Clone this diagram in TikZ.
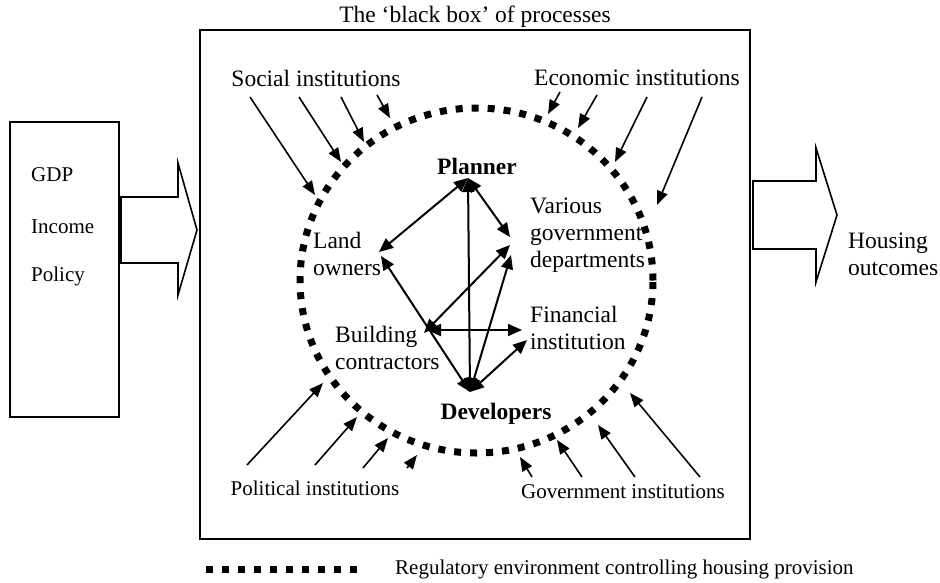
\documentclass[tikz,border=0pt]{standalone}
\usepackage{fontspec}
\setmainfont{Liberation Serif}
\usetikzlibrary{arrows.meta}
\begin{document}
\begin{tikzpicture}[x=1pt,y=-1pt,
  lbl/.style={inner sep=0pt, font=\fontsize{23.5}{27}\selectfont, align=left},
  sml/.style={inner sep=0pt, font=\fontsize{21}{25}\selectfont, align=left},
  bold/.style={inner sep=0pt, font=\fontsize{23.5}{27}\selectfont\bfseries},
  rel/.style={line width=2pt, {Triangle[length=14pt,width=12pt]}-{Triangle[length=14pt,width=12pt]}},
  ext/.style={line width=1.6pt, -{Triangle[length=14pt,width=11pt]}},
  dotline/.style={line width=7pt, dash pattern=on 7pt off 9pt},
  frame/.style={draw, line width=2pt},
  blockarrow/.style={draw, line width=1.6pt, fill=white, line join=miter}]
\useasboundingbox (0,0) rectangle (940,582);

% boxes
\draw[line width=1.5pt] (10,122) rectangle (119,417);
\draw[frame] (200,30) rectangle (750,539);

% block arrows
\draw[blockarrow] (121,197) -- (178,197) -- (178,163) -- (197,230) -- (178,295) -- (178,263) -- (121,263) -- cycle;
\draw[blockarrow] (753,181) -- (816,181) -- (816,148) -- (837,215) -- (816,282) -- (816,249) -- (753,249) -- cycle;

% texts
\node[lbl] (title) at (475,17) {The `black box' of processes};
\node[sml, anchor=west] (gdp) at (31,175) {GDP};
\node[sml, anchor=west] (income) at (31,227) {Income};
\node[sml, anchor=west] (policy) at (31,276) {Policy};
\node[lbl, anchor=west] (housing) at (848,254) {Housing\\outcomes};
\node[lbl] (social) at (316,78) {Social institutions};
\node[lbl] (economic) at (637,78) {Economic institutions};
\node[sml] (political) at (315,488) {Political institutions};
\node[sml] (government) at (623,492) {Government institutions};
\node[bold] (planner) at (477,166) {Planner};
\node[bold] (developers) at (496,414) {Developers};
\node[lbl, anchor=west] (various) at (530,235) {Various\\government\\departments};
\node[lbl, anchor=west] (land) at (313,254) {Land\\owners};
\node[lbl, anchor=west] (building) at (335,348) {Building\\contractors};
\node[lbl, anchor=west] (financial) at (530,328) {Financial\\institution};
\node[sml, anchor=west] (legend) at (395,569) {Regulatory environment controlling housing provision};

% regulatory environment
\draw[dotline] (476.5,280.5) ellipse [x radius=176.5pt, y radius=172.5pt];
\coordinate (legA) at (206,569);
\coordinate (legB) at (357,569);
\draw[dotline] (legA) -- (legB);

% relation end points
\coordinate (P) at (468,178);
\coordinate (D) at (470,392);
\coordinate (L1) at (379,252);
\coordinate (L2) at (381,256);
\coordinate (V1) at (510,237);
\coordinate (V2) at (510,245);
\coordinate (V3) at (511,255);
\coordinate (B1) at (424,333);
\coordinate (B2) at (427,330);
\coordinate (F1) at (522,330);
\coordinate (F2) at (527,340);

\draw[rel] (P) -- (L1);
\draw[rel] (P) -- (V1);
\draw[rel] (P) -- (D);
\draw[rel] (L2) -- (D);
\draw[rel] (B1) -- (V2);
\draw[rel] (D) -- (V3);
\draw[rel] (B2) -- (F1);
\draw[rel] (D) -- (F2);

% institutional influences
\foreach \n/\a/\b in {
  s1/{250,97}/{315,195}, s2/{299,97}/{341,162}, s3/{341,97}/{364,142}, s4/{377,95}/{390,118},
  e1/{560,92}/{548,114}, e2/{597,95}/{578,128}, e3/{647,97}/{615,162}, e4/{702,97}/{657,205},
  p1/{247,465}/{323,383}, p2/{315,465}/{357,417}, p3/{363,468}/{388,438}, p4/{407,468}/{417,455},
  g1/{532,477}/{520,457}, g2/{582,477}/{557,440}, g3/{635,477}/{598,425}, g4/{700,477}/{630,393}}{
  \coordinate (\n a) at (\a);
  \coordinate (\n b) at (\b);
  \draw[ext] (\n a) -- (\n b);
}
\end{tikzpicture}
\end{document}
